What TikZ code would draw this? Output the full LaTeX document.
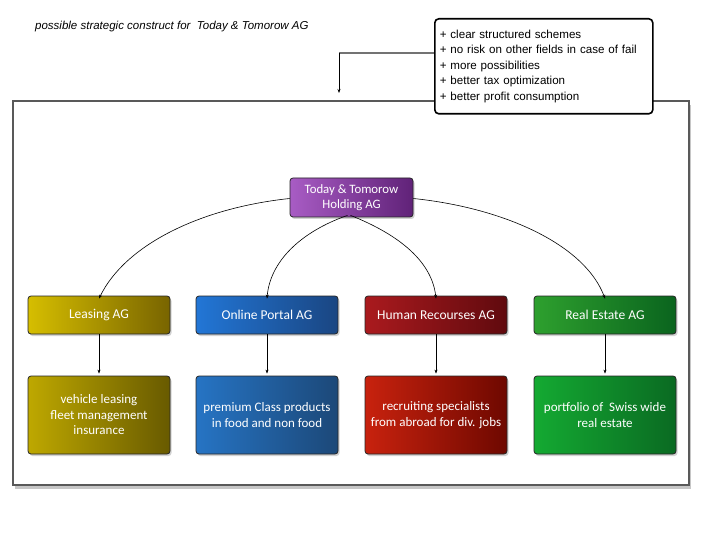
\documentclass[tikz,border=0pt]{standalone}
\usepackage{fontspec}
\setmainfont{Liberation Sans}
\newfontfamily\boxfont{Carlito}
\usetikzlibrary{shadows,arrows.meta}
\begin{document}
\begin{tikzpicture}[x=1pt,y=-1pt,
  frame/.style={draw=black!65, line width=1.6pt, fill=white,
    drop shadow={shadow xshift=2pt, shadow yshift=-4pt, opacity=0.45}},
  notebox/.style={draw=black, line width=1.6pt, fill=white, rounded corners=4pt,
    minimum width=216pt, minimum height=95pt, inner xsep=5pt,
    text width=208pt, align=left, font=\fontsize{11.6}{15.5}\selectfont},
  unit/.style={rounded corners=3pt, draw=black!85, line width=0.8pt,
    minimum width=142pt, text=white, align=center, shading angle=135,
    drop shadow={shadow xshift=1.5pt, shadow yshift=-2pt, opacity=0.35}},
  top/.style={unit, minimum height=38pt, font=\boxfont\fontsize{13.5}{15.5}\selectfont},
  bottom/.style={unit, minimum height=78pt, font=\boxfont\fontsize{13}{15.5}\selectfont},
  conn/.style={line width=0.6pt, -{Stealth[length=4pt,width=3pt]}},
]
\useasboundingbox (0,0) rectangle (720,540);

% title
\node[anchor=west, inner xsep=0pt, font=\itshape\fontsize{11.5}{13}\selectfont] (title) at (35,27)
  {possible strategic construct for\ \ Today \& Tomorow AG};

% frame
\draw[frame] (13,101) rectangle (689,485);

% note
\node[notebox, anchor=north west] (note) at (434,18)
  {+ clear structured schemes\\
   + no risk on other fields in case of fail\\
   + more possibilities\\
   + better tax optimization\\
   + better profit consumption};
\coordinate (nl) at (note.west |- 0,53);
\coordinate (bend) at (339,53);
\coordinate (nend) at (339,93);
\draw[black!55, line width=1.6pt] (nl) -- (bend);
\draw[conn] (bend) -- (nend);

% holding
\node[unit, minimum width=123pt, minimum height=39pt,
  font=\boxfont\fontsize{12.8}{15}\selectfont,
  left color={rgb,255:red,168;green,92;blue,196}, right color={rgb,255:red,96;green,34;blue,120}]
  (hold) at (351.5,197.5) {Today \& Tomorow\\Holding AG};

% row 1
\node[top, left color={rgb,255:red,214;green,190;blue,0}, right color={rgb,255:red,120;green,100;blue,0}]
  (lea) at (99,315) {Leasing AG};
\node[top, left color={rgb,255:red,34;green,118;blue,214}, right color={rgb,255:red,26;green,70;blue,130}]
  (onl) at (267,315) {Online Portal AG};
\node[top, left color={rgb,255:red,170;green,26;blue,30}, right color={rgb,255:red,96;green,10;blue,14}]
  (hr) at (436,315) {Human Recourses AG};
\node[top, left color={rgb,255:red,46;green,160;blue,46}, right color={rgb,255:red,10;green,100;blue,30}]
  (re) at (605,315) {Real Estate AG};

% row 2
\node[bottom, left color={rgb,255:red,190;green,168;blue,0}, right color={rgb,255:red,104;green,90;blue,0}]
  (lea2) at (99,415) {vehicle leasing\\fleet management\\insurance};
\node[bottom, left color={rgb,255:red,38;green,116;blue,196}, right color={rgb,255:red,28;green,72;blue,120}]
  (onl2) at (267,415) {premium Class products\\in food and non food};
\node[bottom, left color={rgb,255:red,200;green,34;blue,14}, right color={rgb,255:red,110;green,8;blue,0}]
  (hr2) at (436,415) {recruiting specialists\\from abroad for div. jobs};
\node[bottom, left color={rgb,255:red,20;green,170;blue,50}, right color={rgb,255:red,10;green,106;blue,34}]
  (re2) at (605,415) {portfolio of\ \ Swiss wide\\real estate};

% vertical arrows
\foreach \a/\b in {lea/lea2, onl/onl2, hr/hr2, re/re2}
  \draw[conn] (\a.south) -- ([yshift=2pt]\b.north);

% curved arrows
\coordinate (hl) at ([yshift=-1pt]hold.west);
\coordinate (hr0) at ([yshift=-1pt]hold.east);
\coordinate (hb1) at ([xshift=-4pt,yshift=2pt]hold.south);
\coordinate (hb2) at ([xshift=-1pt,yshift=2pt]hold.south);
\draw[conn] (hl) .. controls (200,208) and (125,245) .. ([yshift=-3pt]lea.north);
\draw[conn] (hb1) .. controls (300,232) and (270,262) .. ([yshift=-3pt]onl.north);
\draw[conn] (hb2) .. controls (400,235) and (432,262) .. ([yshift=-3pt]hr.north);
\draw[conn] (hr0) .. controls (505,208) and (585,245) .. ([yshift=-3pt]re.north);
\end{tikzpicture}
\end{document}
